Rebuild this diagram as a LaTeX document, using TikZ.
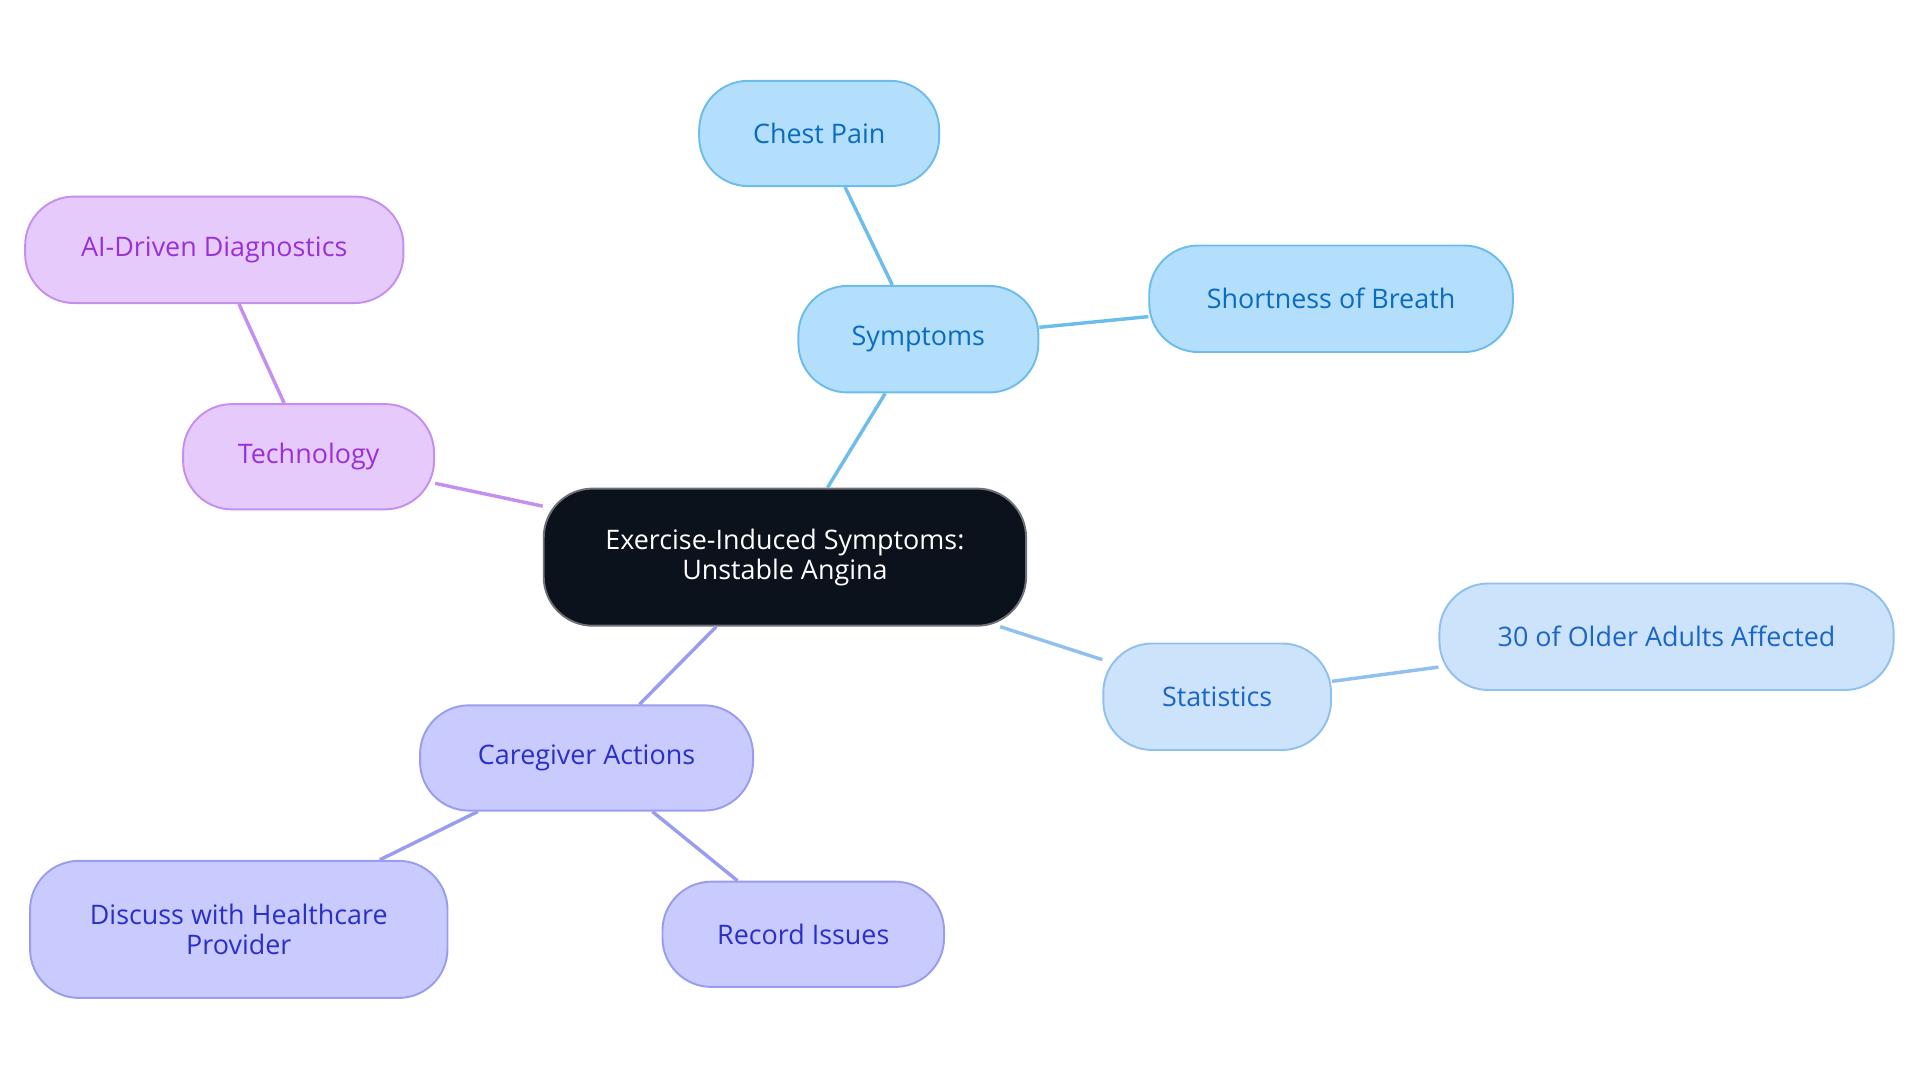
\documentclass[tikz,border=0pt]{standalone}
\usepackage{fontspec}
\setmainfont{Open Sans}
\begin{document}
\begin{tikzpicture}[x=0.02cm,y=-0.02cm,
  box/.style={rounded corners=0.8cm,line width=0.9pt,align=center,font=\fontsize{12.5}{14}\selectfont,inner sep=0pt},
  blu/.style={box,fill=blue1,draw=blue2,text=blue3},
  sta/.style={box,fill=sta1,draw=sta2,text=sta3},
  pur/.style={box,fill=pur1,draw=pur2,text=pur3},
  ind/.style={box,fill=ind1,draw=ind2,text=ind3},
  ln/.style={line width=1.6pt}]
\definecolor{blue1}{HTML}{B3DFFC}\definecolor{blue2}{HTML}{6CBCEC}\definecolor{blue3}{HTML}{0A6BBF}
\definecolor{sta1}{HTML}{CDE3FB}\definecolor{sta2}{HTML}{90C0F0}\definecolor{sta3}{HTML}{1A66C8}
\definecolor{pur1}{HTML}{E6CAFC}\definecolor{pur2}{HTML}{C58FF0}\definecolor{pur3}{HTML}{9A30D8}
\definecolor{ind1}{HTML}{C9CAFD}\definecolor{ind2}{HTML}{9A9CF0}\definecolor{ind3}{HTML}{2A2FC8}
\definecolor{dark}{HTML}{0B121C}
\useasboundingbox (0,0) rectangle (1568,885);
\node[box,fill=dark,draw=dark!60,text=white,minimum width=394\pgflinewidth/0.9*0+7.88cm,minimum height=2.24cm] (c) at (641,455) {Exercise-Induced Symptoms:\\Unstable Angina};
\node[blu,minimum width=3.92cm,minimum height=1.74cm] (s) at (750,277) {Symptoms};
\node[blu,minimum width=3.92cm,minimum height=1.72cm] (cp) at (669,109) {Chest Pain};
\node[blu,minimum width=5.94cm,minimum height=1.74cm] (sb) at (1087,244) {Shortness of Breath};
\node[pur,minimum width=4.1cm,minimum height=1.72cm] (t) at (252,373) {Technology};
\node[pur,minimum width=6.18cm,minimum height=1.74cm] (ai) at (175,204) {AI-Driven Diagnostics};
\node[sta,minimum width=3.72cm,minimum height=1.74cm] (st) at (994,569) {Statistics};
\node[sta,minimum width=7.42cm,minimum height=1.74cm] (o) at (1361,520) {30 of Older Adults Affected};
\node[ind,minimum width=5.44cm,minimum height=1.72cm] (ca) at (479,619) {Caregiver Actions};
\node[ind,minimum width=6.82cm,minimum height=2.24cm] (d) at (195,759) {Discuss with Healthcare\\Provider};
\node[ind,minimum width=4.6cm,minimum height=1.72cm] (r) at (656,763) {Record Issues};
\draw[ln,blue2] (c) -- (s); \draw[ln,blue2] (s) -- (cp); \draw[ln,blue2] (s) -- (sb);
\draw[ln,pur2] (c) -- (t); \draw[ln,pur2] (t) -- (ai);
\draw[ln,sta2] (c) -- (st); \draw[ln,sta2] (st) -- (o);
\draw[ln,ind2] (c) -- (ca); \draw[ln,ind2] (ca) -- (d); \draw[ln,ind2] (ca) -- (r);
\end{tikzpicture}
\end{document}
